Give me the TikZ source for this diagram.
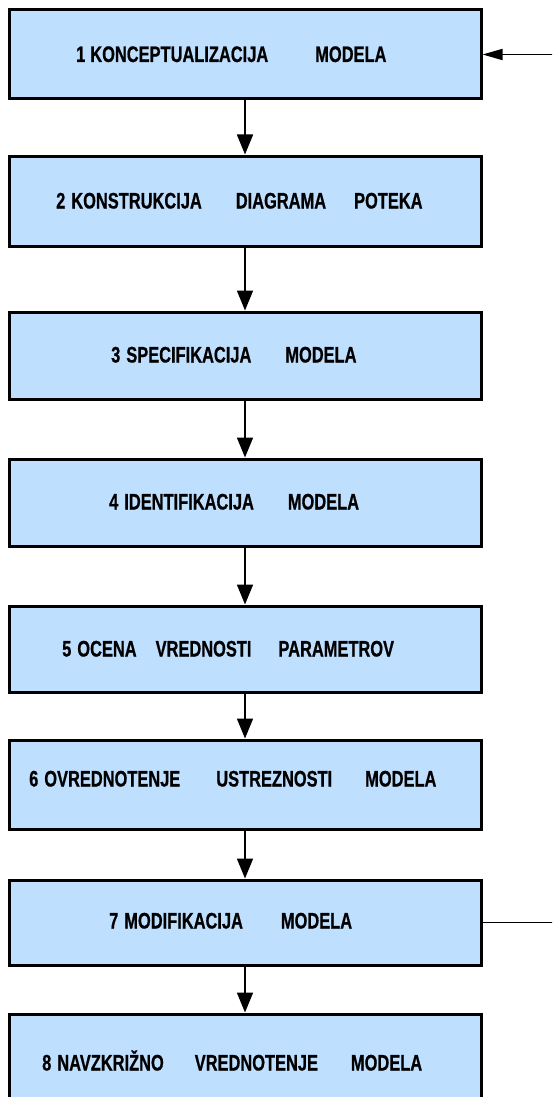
\documentclass[tikz,border=0pt]{standalone}
\usepackage{fontspec}
\newfontfamily\labelfont[FakeStretch=0.73,BoldFeatures={FakeBold=0.7}]{Liberation Sans}
\usetikzlibrary{arrows.meta}
\definecolor{boxfill}{RGB}{191,223,255}

\begin{document}
\begin{tikzpicture}[x=1pt,y=-1pt,
  stage/.style={draw=black, line width=3pt, fill=boxfill, inner sep=0pt,
                minimum width=472pt},
  lbl/.style={anchor=base west, inner sep=0pt,
              font=\labelfont\bfseries\fontsize{22.5}{24}\selectfont},
  flow/.style={line width=1.7pt, -{Triangle[width=16pt,length=20pt]}},
  back/.style={line width=1.7pt, -{Triangle[width=11pt,length=20pt]}}]
\useasboundingbox (0,0) rectangle (552,1097);
\clip (0,0) rectangle (552,1097);

% stage boxes
\node[stage, minimum height=89pt] (b1) at (245,54.5) {};
\node[stage, minimum height=90pt] (b2) at (245,201) {};
\node[stage, minimum height=87pt] (b3) at (245,355.5) {};
\node[stage, minimum height=87pt] (b4) at (245,502.5) {};
\node[stage, minimum height=86pt] (b5) at (245,649) {};
\node[stage, minimum height=89pt] (b6) at (245,784.5) {};
\node[stage, minimum height=85pt] (b7) at (245,922.5) {};
\node[stage, minimum height=96pt] (b8) at (245,1062) {};

% stage titles
\node[lbl] (t1) at (76,62) {1\hspace{5pt}KONCEPTUALIZACIJA\hspace{47pt}MODELA};
\node[lbl] (t2) at (56,208.5) {2\hspace{6pt}KONSTRUKCIJA\hspace{34pt}DIAGRAMA\hspace{28pt}POTEKA};
\node[lbl] (t3) at (111,362.5) {3\hspace{6pt}SPECIFIKACIJA\hspace{34pt}MODELA};
\node[lbl] (t4) at (109,509.5) {4\hspace{6pt}IDENTIFIKACIJA\hspace{34pt}MODELA};
\node[lbl] (t5) at (62,656.5) {5\hspace{6pt}OCENA\hspace{19pt}VREDNOSTI\hspace{27pt}PARAMETROV};
\node[lbl] (t6) at (29,786.5) {6\hspace{6pt}OVREDNOTENJE\hspace{36pt}USTREZNOSTI\hspace{33pt}MODELA};
\node[lbl] (t7) at (109,928.5) {7\hspace{6pt}MODIFIKACIJA\hspace{38pt}MODELA};
\node[lbl] (t8) at (42,1070.5) {8\hspace{6pt}NAVZKRIŽNO\hspace{31pt}VREDNOTENJE\hspace{33pt}MODELA};

% main flow
\draw[flow] (b1.south) -- (b2.north);
\draw[flow] (b2.south) -- (b3.north);
\draw[flow] (b3.south) -- (b4.north);
\draw[flow] (b4.south) -- (b5.north);
\draw[flow] (b5.south) -- (b6.north);
\draw[flow] (b6.south) -- (b7.north);
\draw[flow] (b7.south) -- (b8.north);

% feedback loop ends
\coordinate (loopout) at (560,922.5);
\coordinate (loopin) at (560,54.5);
\draw[line width=1.7pt] (b7.east) -- (loopout);
\draw[back] (loopin) -- (b1.east);
\end{tikzpicture}
\end{document}
